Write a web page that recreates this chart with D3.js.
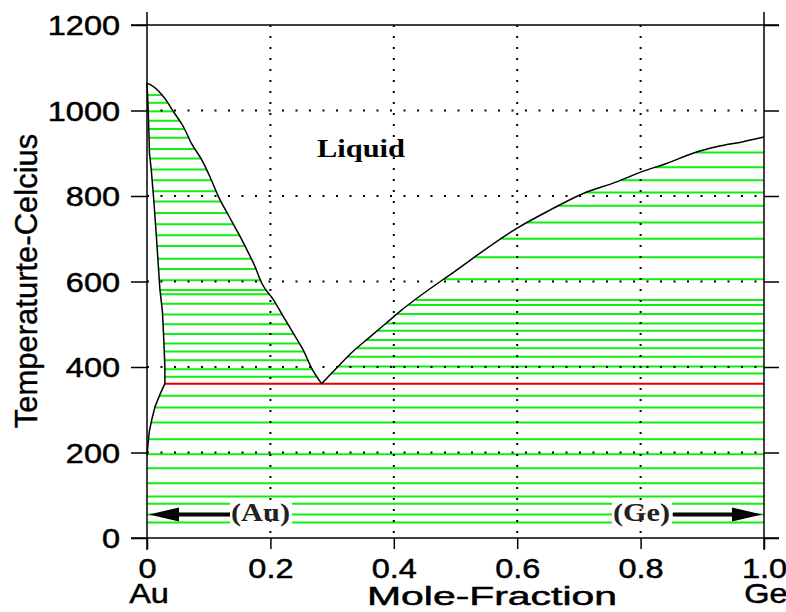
<!DOCTYPE html>
<html>
<head>
<meta charset="utf-8">
<script src="https://cdn.jsdelivr.net/npm/d3@7"></script>
<style>
body { margin: 0; background: #fff; }
svg { display: block; }
</style>
</head>
<body>
<svg id="chart" width="786" height="612"></svg>
<script>
// phase boundaries as [mole fraction Ge, temperature C]
const liquidusAu = [[0,1064],[0.006,1060],[0.029,1028],[0.043,997],[0.059,962],[0.072,923],[0.089,884],[0.102,845],[0.116,798],[0.132,755],[0.148,713],[0.162,674],[0.175,635],[0.186,596],[0.205,557],[0.221,518],[0.237,479],[0.253,440],[0.267,397],[0.283,361]];
const liquidusGe = [[0.283,361],[0.307,397],[0.329,430],[0.361,470],[0.388,503],[0.41,530],[0.5,625],[0.6,725],[0.653,767],[0.707,806],[0.761,833],[0.802,857],[0.842,876],[0.885,900],[0.923,915],[0.966,927],[1,938]];
const solidusAu = [[0,1064],[0.002,1000],[0.004,900],[0.007,860],[0.011,790],[0.015,710],[0.018,645],[0.021,580],[0.025,530],[0.027,470],[0.029,400],[0.029,361]];
const solvusAu = [[0.029,361],[0.021,336],[0.013,307],[0.0076,276],[0.0037,249],[0.0005,202],[0,195]];
const eutecticT = 361;

// temperatures of the hatching (tie) lines
const tieAuLiquid = [1036,1018,998,976,957,936,910,888,862,837,811,787,760,734,708,683,653,629,603,580,570,548,523,500,477,455,436,416,395,377];
const tieGeLiquid = [902,867,837,808,777,738,700,657,605,557,545,524,502,485,463,444,424,401,385];
const tieSolid = [333,305,270,231,196,163,128,97,80,55,36];

const xTicks = [0, 0.2, 0.4, 0.6, 0.8, 1.0];
const yTicks = [0, 200, 400, 600, 800, 1000, 1200];
const gridX = [0.2, 0.4, 0.6, 0.8];
const gridY = [200, 400, 600, 800, 1000];

const phaseLabels = [
  {text: "(Au)", x: 231, w: 59, side: "left"},
  {text: "(Ge)", x: 613, w: 57, side: "right"}
];
const arrowT = 55;

const svg = d3.select("#chart");
const sansFont = "'Liberation Sans', Arial, sans-serif";
const serifFont = "'Liberation Serif', 'Times New Roman', serif";
const stretch = 1.16;

const x = d3.scaleLinear().domain([0, 1]).range([147, 764]);
const y = d3.scaleLinear().domain([0, 1200]).range([538, 25]);

// x of a boundary curve at a given temperature (linear between read points)
function xAt(curve, t) {
  const pts = curve.slice().sort((a, b) => a[1] - b[1]);
  if (t <= pts[0][1]) return pts[0][0];
  if (t >= pts[pts.length - 1][1]) return pts[pts.length - 1][0];
  for (let i = 0; i < pts.length - 1; i++) {
    const a = pts[i], b = pts[i + 1];
    if (t >= a[1] && t <= b[1]) {
      const k = b[1] === a[1] ? 0 : (t - a[1]) / (b[1] - a[1]);
      return a[0] + k * (b[0] - a[0]);
    }
  }
  return pts[0][0];
}

// tie lines
const segs = [];
tieAuLiquid.forEach(t => segs.push([x(xAt(solidusAu, t)), x(xAt(liquidusAu, t)), t]));
tieGeLiquid.forEach(t => segs.push([x(xAt(liquidusGe, t)), x(1), t]));
tieSolid.forEach(t => {
  let x0 = x(xAt(solvusAu, t));
  const x1 = x(1);
  if (t > 25 && t < 90) {
    phaseLabels.forEach(l => {
      segs.push([x0, l.x - 1, t]);
      x0 = l.x + l.w + 2;
    });
  }
  segs.push([x0, x1, t]);
});

svg.append("g")
  .selectAll("line")
  .data(segs)
  .enter().append("line")
  .attr("x1", d => d[0])
  .attr("x2", d => d[1])
  .attr("y1", d => y(d[2]))
  .attr("y2", d => y(d[2]))
  .attr("stroke", "#11ee11")
  .attr("stroke-width", 2);

// eutectic line
svg.append("line")
  .attr("x1", x(xAt(solvusAu, eutecticT)))
  .attr("x2", x(1))
  .attr("y1", y(eutecticT))
  .attr("y2", y(eutecticT))
  .attr("stroke", "#ee0000")
  .attr("stroke-width", 2);

// dotted grid
const grid = svg.append("g").attr("stroke", "#000").attr("stroke-width", 2);
grid.selectAll(".gx")
  .data(gridX)
  .enter().append("line")
  .attr("x1", d => x(d)).attr("x2", d => x(d))
  .attr("y1", y(1200)).attr("y2", y(0))
  .attr("stroke-dasharray", "2,9");
grid.selectAll(".gy")
  .data(gridY)
  .enter().append("line")
  .attr("y1", d => y(d)).attr("y2", d => y(d))
  .attr("x1", x(0)).attr("x2", x(1))
  .attr("stroke-dasharray", "2,11.5");

// phase boundaries
const smooth = d3.line().curve(d3.curveMonotoneX).x(d => x(d[0])).y(d => y(d[1]));
const straight = d3.line().x(d => x(d[0])).y(d => y(d[1]));
[[liquidusAu, smooth], [liquidusGe, smooth], [solidusAu, straight], [solvusAu, straight]].forEach(c => {
  svg.append("path")
    .attr("d", c[1](c[0]))
    .attr("fill", "none")
    .attr("stroke", "#000")
    .attr("stroke-width", 1.5);
});

// axes
const yAxis = svg.append("g")
  .attr("transform", `translate(${x(0)},0)`)
  .call(d3.axisLeft(y).tickValues(yTicks).tickSize(16).tickFormat(d3.format("d")));
yAxis.select(".domain").remove();
yAxis.attr("font-size", 28).attr("font-family", sansFont);
yAxis.selectAll("line").attr("stroke-width", 1.5);
yAxis.selectAll("text")
  .attr("x", -27 / stretch)
  .attr("dy", "0.35em")
  .attr("transform", `scale(${stretch},1)`)
  .attr("fill", "#000")
  .attr("stroke", "#000")
  .attr("stroke-width", 0.5);

const yAxisR = svg.append("g")
  .attr("transform", `translate(${x(1)},0)`)
  .call(d3.axisRight(y).tickValues(yTicks).tickSize(15).tickFormat(""));
yAxisR.select(".domain").remove();
yAxisR.selectAll("line").attr("stroke-width", 1.5);

const xAxis = svg.append("g")
  .attr("transform", `translate(0,${y(0)})`)
  .call(d3.axisBottom(x).tickValues(xTicks).tickSize(11)
    .tickFormat(d => d === 0 ? "0" : d3.format(".1f")(d)));
xAxis.select(".domain").remove();
xAxis.attr("font-size", 28).attr("font-family", sansFont);
xAxis.selectAll("line").attr("stroke-width", 1.5);
xAxis.selectAll("text")
  .attr("y", 40)
  .attr("dy", 0)
  .attr("transform", `scale(${stretch},1)`)
  .attr("fill", "#000")
  .attr("stroke", "#000")
  .attr("stroke-width", 0.5);

// frame lines (extend a little past the plot like the original)
const frame = svg.append("g").attr("stroke", "#000").attr("stroke-width", 1.5);
[0, 1].forEach(v => frame.append("line")
  .attr("x1", x(v)).attr("x2", x(v))
  .attr("y1", y(1200) - 13).attr("y2", y(0) + 12));
[0, 1200].forEach(v => frame.append("line")
  .attr("x1", x(0) - 16).attr("x2", x(1) + 15)
  .attr("y1", y(v)).attr("y2", y(v)));

// arrows to the terminal solid solutions
const ay = y(arrowT);
const arrows = svg.append("g");
phaseLabels.forEach(l => {
  const left = l.side === "left";
  const tip = left ? x(0) + 2 : x(1) - 2;
  const start = left ? l.x - 1 : l.x + l.w + 3;
  const base = left ? tip + 30 : tip - 30;
  arrows.append("line")
    .attr("x1", start).attr("x2", base)
    .attr("y1", ay).attr("y2", ay)
    .attr("stroke", "#000").attr("stroke-width", 4);
  arrows.append("path")
    .attr("d", `M${tip},${ay}L${base},${ay - 7}L${base},${ay + 7}Z`)
    .attr("fill", "#000");
  svg.append("text")
    .attr("x", l.x).attr("y", ay + 7)
    .attr("textLength", l.w)
    .attr("lengthAdjust", "spacingAndGlyphs")
    .attr("font-family", serifFont)
    .attr("font-weight", "bold")
    .attr("font-size", 26)
    .attr("fill", "#222")
    .text(l.text);
});

// labels
svg.append("text")
  .attr("x", 317).attr("y", 157)
  .attr("textLength", 88)
  .attr("lengthAdjust", "spacingAndGlyphs")
  .attr("font-family", serifFont)
  .attr("font-weight", "bold")
  .attr("font-size", 25)
  .text("Liquid");

svg.append("text")
  .attr("transform", "translate(37,281) rotate(-90)")
  .attr("text-anchor", "middle")
  .attr("font-family", sansFont)
  .attr("font-size", 31)
  .attr("stroke", "#000")
  .attr("stroke-width", 0.4)
  .text("Temperaturte-Celcius");

svg.append("text")
  .attr("x", 367).attr("y", 605)
  .attr("textLength", 250)
  .attr("lengthAdjust", "spacingAndGlyphs")
  .attr("font-family", sansFont)
  .attr("font-size", 26)
  .attr("stroke", "#000")
  .attr("stroke-width", 0.5)
  .text("Mole-Fraction");

[["Au", x(0) + 2], ["Ge", x(1) + 2]].forEach(d => {
  svg.append("text")
    .attr("transform", `translate(${d[1]},603) scale(${stretch},1)`)
    .attr("text-anchor", "middle")
    .attr("font-family", sansFont)
    .attr("font-size", 28)
    .attr("stroke", "#000")
    .attr("stroke-width", 0.5)
    .text(d[0]);
});
</script>
</body>
</html>
